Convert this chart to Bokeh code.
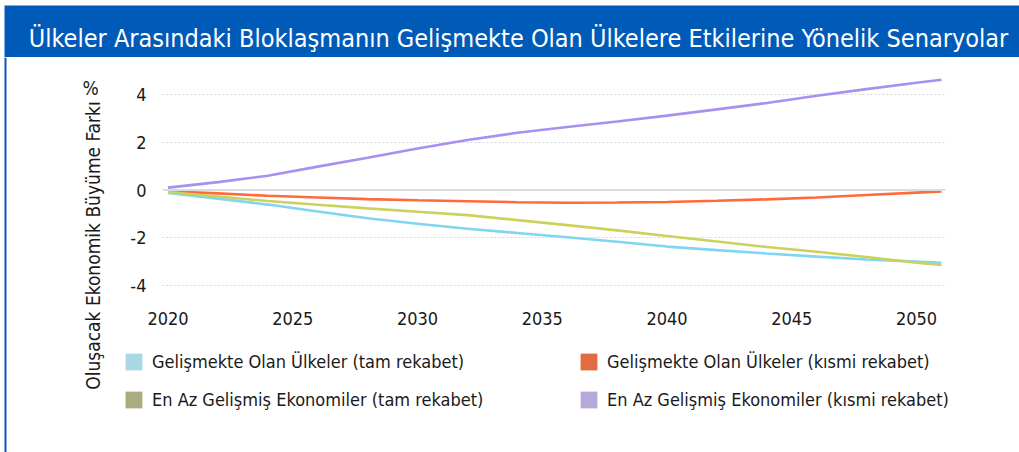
import math
from bokeh.plotting import figure
from bokeh.layouts import column, row
from bokeh.models import (Range1d, FixedTicker, Label, Span, Legend, LegendItem)
from bokeh.embed import file_html
from bokeh.resources import INLINE

# ---- data ----
years = [2020, 2022, 2024, 2026, 2028, 2030, 2032, 2034, 2036, 2038, 2040, 2042, 2044, 2046, 2048, 2050, 2051]
gelismekte_tam = [-0.12, -0.36, -0.61, -0.9, -1.18, -1.41, -1.62, -1.8, -1.98, -2.17, -2.37, -2.52, -2.66, -2.79, -2.91, -3.0, -3.05]
gelismekte_kismi = [-0.05, -0.14, -0.24, -0.31, -0.38, -0.43, -0.47, -0.51, -0.53, -0.52, -0.5, -0.45, -0.39, -0.31, -0.21, -0.11, -0.06]
enaz_tam = [-0.08, -0.27, -0.46, -0.62, -0.77, -0.91, -1.05, -1.26, -1.47, -1.69, -1.93, -2.16, -2.39, -2.59, -2.81, -3.05, -3.14]
enaz_kismi = [0.1, 0.33, 0.6, 0.98, 1.35, 1.74, 2.1, 2.4, 2.64, 2.87, 3.12, 3.38, 3.65, 3.95, 4.23, 4.5, 4.62]

series_names = [
    "Gelişmekte Olan Ülkeler (tam rekabet)",
    "Gelişmekte Olan Ülkeler (kısmi rekabet)",
    "En Az Gelişmiş Ekonomiler (tam rekabet)",
    "En Az Gelişmiş Ekonomiler (kısmi rekabet)",
]
x_ticks = [2020, 2025, 2030, 2035, 2040, 2045, 2050]
y_ticks = [-4, -2, 0, 2, 4]

title_text = "Ülkeler Arasındaki Bloklaşmanın Gelişmekte Olan Ülkelere Etkilerine Yönelik Senaryolar"
y_title = "Oluşacak Ekonomik Büyüme Farkı"

line_colors = ["#80d6f0", "#ff6a3a", "#cbd25a", "#a98ff0"]
swatch_colors = ["#a8d8e3", "#e26b40", "#a9ac80", "#b6a8d9"]
BLUE = "#005ab8"
TXT = "#1a1a1a"
FONT = "'DejaVu Sans Condensed', Roboto"


def blank(width, height, **kw):
    f = figure(width=width, height=height, output_backend="svg", toolbar_location=None,
               x_axis_type=None, y_axis_type=None, x_range=Range1d(0, 1), y_range=Range1d(0, 1),
               min_border_left=0, min_border_right=0, min_border_top=0, min_border_bottom=0, **kw)
    f.outline_line_color = None
    f.xgrid.visible = False
    f.ygrid.visible = False
    return f


# ---- title bar ----
tf = blank(1019, 57)
tf.min_border_top = 5
tf.min_border_left = 4
tf.background_fill_color = BLUE
tf.border_fill_color = "white"
tf.add_layout(Label(x=514, y=19, x_units="screen", y_units="screen", text=title_text,
                    text_font=FONT, text_font_size="25px", text_color="white",
                    text_align="center", text_baseline="alphabetic"))

# ---- left strip: blue edge line, y title and % ----
lf = blank(123, 395)
lf.background_fill_color = "white"
lf.border_fill_color = "white"
lf.add_layout(Span(location=5, location_units="screen", dimension="height",
                   line_color=BLUE, line_width=2))
lf.add_layout(Label(x=90, y=365, x_units="screen", y_units="screen", text="%",
                    text_font=FONT, text_font_size="19px", text_color=TXT,
                    text_align="center", text_baseline="middle"))
lf.add_layout(Label(x=92, y=207, x_units="screen", y_units="screen", text=y_title,
                    angle=math.pi / 2, text_font=FONT, text_font_size="19px", text_color=TXT,
                    text_align="center", text_baseline="middle"))

# ---- main chart ----
p = figure(width=896, height=283, output_backend="svg", toolbar_location=None,
           x_range=Range1d(2019.78, 2051.16), y_range=Range1d(-4.63, 5.01),
           min_border_left=39, min_border_right=74, min_border_top=13, min_border_bottom=40)
p.outline_line_color = None
for ax in (p.xaxis[0], p.yaxis[0]):
    ax.axis_line_color = None
    ax.major_tick_line_color = None
    ax.minor_tick_line_color = None
    ax.major_tick_out = 0
    ax.major_tick_in = 0
    ax.major_label_text_font = FONT
    ax.major_label_text_font_size = "18px"
    ax.major_label_text_color = TXT
p.xaxis.ticker = FixedTicker(ticks=x_ticks)
p.yaxis.ticker = FixedTicker(ticks=y_ticks)
p.yaxis.major_label_overrides = {t: str(t) for t in y_ticks}
p.xaxis.major_label_standoff = 11
p.yaxis.major_label_standoff = 16

p.xgrid.grid_line_color = None
p.ygrid.ticker = FixedTicker(ticks=[t for t in y_ticks if t != 0])
p.ygrid.grid_line_color = "#d6d6d6"
p.ygrid.grid_line_dash = "2 2"
p.ygrid.grid_line_width = 1
p.add_layout(Span(location=0, dimension="width", line_color="#dcdcdc", line_width=2))

series = [gelismekte_tam, gelismekte_kismi, enaz_tam, enaz_kismi]
for vals, col in zip(series, line_colors):
    p.line(years, vals, line_color=col, line_width=2.6)

# ---- legend strip (own figure, wrapped in a row so its frame is not aligned to the chart) ----
lg = blank(896, 112)
lg.background_fill_color = "white"
swatch_r = []
for col in swatch_colors:
    # zero-size quads outside the visible range; only their legend glyph shows
    swatch_r.append(lg.quad(left=[5], right=[5], top=[5], bottom=[5], fill_color=col, line_color=None))
order = [0, 2, 1, 3]  # column-major fill -> rows as in the reference
items = [LegendItem(label=series_names[i], renderers=[swatch_r[i]]) for i in order]
legend = Legend(items=items, ncols=2, location=(0, 42),
                glyph_width=21, glyph_height=21, label_standoff=8,
                label_text_font=FONT, label_text_font_size="18px", label_text_color=TXT,
                label_width=409, label_height=21, spacing=17, padding=0, margin=0,
                border_line_color=None, background_fill_alpha=0)
lg.add_layout(legend, "center")

layout = column(tf, row(lf, column(p, row(lg, spacing=0), spacing=0), spacing=0), spacing=0)

open("out.html", "w").write(file_html(layout, INLINE))
